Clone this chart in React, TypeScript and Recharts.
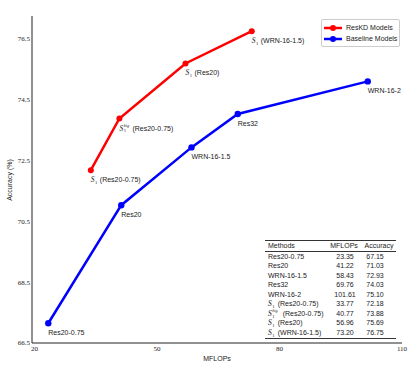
import React from "react";
import { LineChart, Line, XAxis, YAxis, Legend, LabelList } from "recharts";

// baseline models
const baselineNames = ["Res20-0.75", "Res20", "WRN-16-1.5", "Res32", "WRN-16-2"];
const baselineMflops = [23.35, 41.22, 58.43, 69.76, 101.61];
const baselineAcc = [67.15, 71.03, 72.93, 74.03, 75.1];

// ResKD students
const reskdStudents = ["Res20-0.75", "Res20-0.75", "Res20", "WRN-16-1.5"];
const reskdSymbols = ["S1", "S1big", "S1", "S1"];
const reskdMflops = [33.77, 40.77, 56.96, 73.2];
const reskdAcc = [72.18, 73.88, 75.69, 76.75];

const seriesNames = ["ResKD Models", "Baseline Models"];
const xTicks = [20, 50, 80, 110];
const yTicks = [66.5, 68.5, 70.5, 72.5, 74.5, 76.5];

const RED = "#ff0000";
const BLUE = "#0000ff";
const INK = "#1a1a1a";
const sans = "'Liberation Sans', Arial, sans-serif";
const serif = "'Liberation Serif', 'Times New Roman', serif";

const baselineData = baselineNames.map((name, i) => ({ name, sym: "", x: baselineMflops[i], y: baselineAcc[i] }));
const reskdData = reskdStudents.map((name, i) => ({ name, sym: reskdSymbols[i], x: reskdMflops[i], y: reskdAcc[i] }));

const tableRows = [...baselineData, ...reskdData];

function MathSym({ x, y, sym }: { x: number; y: number; sym: string }) {
  const big = sym === "S1big";
  return (
    <>
      <text x={x} y={y} fontSize={7.5} fontStyle="italic" fontFamily={serif} fill={INK}>S</text>
      <text x={x + 4.3} y={y + 1.6} fontSize={4.6} fontFamily={serif} fill={INK}>1</text>
      {big && (
        <text x={x + 4.3} y={y - 3.6} fontSize={4.2} fontStyle="italic" fontFamily={serif} fill={INK}>big</text>
      )}
    </>
  );
}

function pointLabel(data: typeof baselineData) {
  return (props: any) => {
    const d = data[props.index];
    if (!d) return null;
    const x = Number(props.x);
    const y = Number(props.y) + 12;
    if (!d.sym) {
      return (
        <text x={x} y={y} fontSize={7} fontFamily={sans} fill={INK}>{d.name}</text>
      );
    }
    const off = d.sym === "S1big" ? 13 : 9;
    return (
      <g>
        <MathSym x={x} y={y} sym={d.sym} />
        <text x={x + off} y={y} fontSize={7} fontFamily={sans} fill={INK}>({d.name})</text>
      </g>
    );
  };
}

function LegendBox({ payload }: any) {
  const items = [...(payload || [])].sort(
    (a: any, b: any) => seriesNames.indexOf(a.value) - seriesNames.indexOf(b.value)
  );
  return (
    <div
      style={{
        border: "1px solid #cccccc",
        borderRadius: 2,
        background: "rgba(255,255,255,0.85)",
        padding: "2px 2px 2px 1px",
        fontFamily: sans,
        fontSize: 7,
        color: INK,
      }}
    >
      {items.map((p: any) => (
        <div key={p.value} style={{ display: "flex", alignItems: "center", height: 11 }}>
          <svg width={20} height={8} style={{ marginRight: 3 }}>
            <line x1={1} y1={4} x2={19} y2={4} stroke={p.color} strokeWidth={2.5} />
            <circle cx={10} cy={4} r={3} fill={p.color} />
          </svg>
          <span>{p.value}</span>
        </div>
      ))}
    </div>
  );
}

function TableSym({ sym }: { sym: string }) {
  if (sym === "S1big") {
    return (
      <span style={{ fontFamily: serif }}>
        <i style={{ fontSize: 7.5 }}>S</i>
        <span style={{ position: "relative", display: "inline-block", width: 9, height: 7 }}>
          <span style={{ position: "absolute", left: 0.5, top: -2.5, fontSize: 4.2, fontStyle: "italic" }}>big</span>
          <span style={{ position: "absolute", left: 0.5, top: 3, fontSize: 4.6 }}>1</span>
        </span>
      </span>
    );
  }
  return (
    <span style={{ fontFamily: serif }}>
      <i style={{ fontSize: 7.5 }}>S</i>
      <span style={{ position: "relative", display: "inline-block", width: 4, height: 7 }}>
        <span style={{ position: "absolute", left: 0.5, top: 3, fontSize: 4.6 }}>1</span>
      </span>
    </span>
  );
}

function MethodsTable() {
  const rowH = 9.5;
  const cell = (left: number, width: number, align: "left" | "center"): React.CSSProperties => ({
    position: "absolute",
    left,
    width,
    textAlign: align,
    whiteSpace: "nowrap",
  });
  return (
    <div
      style={{
        position: "absolute",
        left: 265,
        top: 240,
        width: 131,
        fontFamily: sans,
        fontSize: 7,
        color: INK,
        lineHeight: `${rowH}px`,
      }}
    >
      <div style={{ borderTop: "0.8px solid #333", height: 0 }} />
      <div style={{ position: "relative", height: rowH }}>
        <span style={cell(3, 60, "left")}>Methods</span>
        <span style={cell(64, 30, "center")}>MFLOPs</span>
        <span style={cell(97, 34, "center")}>Accuracy</span>
      </div>
      <div style={{ borderTop: "0.6px solid #333", height: 0 }} />
      {tableRows.map((r, i) => (
        <div key={i} style={{ position: "relative", height: rowH }}>
          <span style={cell(3, 60, "left")}>
            {r.sym ? (
              <>
                <TableSym sym={r.sym} /> ({r.name})
              </>
            ) : (
              r.name
            )}
          </span>
          <span style={cell(65, 30, "center")}>{r.x.toFixed(2)}</span>
          <span style={cell(93, 34, "center")}>{r.y.toFixed(2)}</span>
        </div>
      ))}
      <div style={{ borderTop: "0.8px solid #333", height: 0, marginTop: 1 }} />
    </div>
  );
}

export default function App() {
  return (
    <div style={{ position: "absolute", left: 0, top: 0, width: 415, height: 369, background: "#fff" }}>
      <LineChart width={415} height={369} margin={{ top: 16, right: 13, bottom: 0, left: 0 }}>
        <XAxis
          xAxisId="main"
          dataKey="x"
          type="number"
          domain={[19.36, 110]}
          ticks={xTicks}
          allowDataOverflow
          height={26}
          tickLine={false}
          tickSize={0}
          tickMargin={3}
          axisLine={{ stroke: "#222" }}
          tick={{ fontSize: 7, fontFamily: serif, fill: INK }}
          label={{
            content: () => (
              <text x={217} y={361} textAnchor="middle" fontSize={7} fontFamily={sans} fill={INK}>MFLOPs</text>
            ),
          }}
        />
        <XAxis
          xAxisId="top"
          orientation="top"
          type="number"
          domain={[19.36, 110]}
          height={0}
          tick={false}
          tickLine={false}
          axisLine={{ stroke: "#222" }}
          label={{
            content: () => (
              <text x={217} y={11} textAnchor="middle" fontSize={7} fontFamily={sans} fill={INK}>
                Accuracy-Cost Trade-off on CIFAR-100
              </text>
            ),
          }}
        />
        <YAxis
          yAxisId="main"
          dataKey="y"
          type="number"
          domain={[66.5, 77.25]}
          ticks={yTicks}
          allowDataOverflow
          width={32}
          tickLine={false}
          tickSize={0}
          tickMargin={2}
          axisLine={{ stroke: "#222" }}
          tick={{ fontSize: 7, fontFamily: serif, fill: INK }}
          tickFormatter={(v: number) => v.toFixed(1)}
          label={{
            content: () => (
              <text
                transform="translate(12,180) rotate(-90)"
                textAnchor="middle"
                fontSize={7}
                fontFamily={sans}
                fill={INK}
              >
                Accuracy (%)
              </text>
            ),
          }}
        />
        <YAxis
          yAxisId="right"
          orientation="right"
          type="number"
          domain={[66.5, 77.25]}
          width={0}
          tick={false}
          tickLine={false}
          axisLine={{ stroke: "#222" }}
        />
        <Legend
          layout="vertical"
          align="center"
          verticalAlign="middle"
          itemSorter={null as any}
          content={<LegendBox />}
          wrapperStyle={{ left: 321, top: 19, width: "auto" }}
        />
        <Line
          xAxisId="main"
          yAxisId="main"
          data={reskdData}
          dataKey="y"
          name={seriesNames[0]}
          stroke={RED}
          strokeWidth={2.5}
          dot={{ r: 3, fill: RED, stroke: RED, strokeWidth: 0 }}
          isAnimationActive={false}
        >
          <LabelList dataKey="name" content={pointLabel(reskdData)} />
        </Line>
        <Line
          xAxisId="main"
          yAxisId="main"
          data={baselineData}
          dataKey="y"
          name={seriesNames[1]}
          stroke={BLUE}
          strokeWidth={2.5}
          dot={{ r: 3.2, fill: BLUE, stroke: BLUE, strokeWidth: 0 }}
          isAnimationActive={false}
        >
          <LabelList dataKey="name" content={pointLabel(baselineData)} />
        </Line>
      </LineChart>
      <MethodsTable />
    </div>
  );
}
